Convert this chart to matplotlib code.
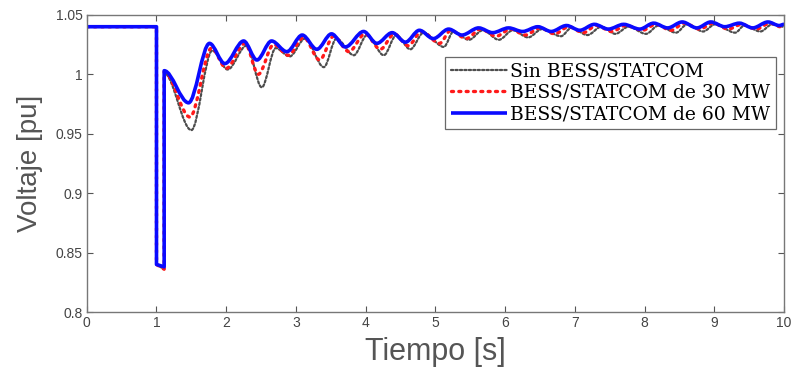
import matplotlib
matplotlib.use("Agg")
import matplotlib.pyplot as plt
from matplotlib.path import Path
from matplotlib.patches import PathPatch
from matplotlib.lines import Line2D

# ---- data -------------------------------------------------------------
# fault segment (pre-fault level, fault, clearing) per case
fault_t = [0.0, 1.0, 1.0, 1.11]
sin_fault_v = [1.04, 1.04, 0.840, 0.836]
b30_fault_v = [1.04, 1.04, 0.840, 0.836]
b60_fault_v = [1.04, 1.04, 0.840, 0.838]

# post-fault oscillation: successive extremes (time, voltage)
b60_t = [1.11, 1.46, 1.76, 1.98, 2.25, 2.44, 2.65, 2.87, 3.09, 3.30, 3.51, 3.71,
         3.97, 4.16, 4.38, 4.57, 4.77, 4.97, 5.19, 5.38, 5.62, 5.82, 6.05, 6.25,
         6.47, 6.66, 6.88, 7.07, 7.28, 7.48, 7.70, 7.93, 8.13, 8.33, 8.54, 8.75,
         8.95, 9.15, 9.36, 9.55, 9.77, 9.93, 10.0]
b60_v = [1.003, 0.976, 1.026, 1.009, 1.028, 1.012, 1.028, 1.019, 1.033, 1.021,
         1.034, 1.023, 1.036, 1.026, 1.035, 1.027, 1.037, 1.030, 1.038, 1.033,
         1.039, 1.035, 1.039, 1.036, 1.040, 1.036, 1.041, 1.037, 1.042, 1.038,
         1.042, 1.038, 1.043, 1.039, 1.044, 1.039, 1.044, 1.040, 1.043, 1.039,
         1.044, 1.041, 1.042]

b30_t = [1.11, 1.48, 1.79, 2.00, 2.27, 2.46, 2.68, 2.89, 3.11, 3.34, 3.54, 3.76,
         3.99, 4.21, 4.41, 4.61, 4.80, 5.06, 5.22, 5.44, 5.65, 5.87, 6.08, 6.29,
         6.50, 6.71, 6.91, 7.12, 7.31, 7.53, 7.73, 7.97, 8.16, 8.38, 8.57, 8.79,
         8.98, 9.20, 9.39, 9.60, 9.80, 9.95, 10.0]
b30_v = [1.002, 0.964, 1.022, 1.005, 1.026, 1.000, 1.025, 1.016, 1.031, 1.012,
         1.032, 1.019, 1.034, 1.021, 1.034, 1.024, 1.036, 1.026, 1.037, 1.030,
         1.038, 1.032, 1.038, 1.033, 1.039, 1.034, 1.040, 1.035, 1.041, 1.036,
         1.041, 1.037, 1.042, 1.037, 1.043, 1.038, 1.043, 1.038, 1.042, 1.038,
         1.043, 1.040, 1.041]

sin_t = [1.11, 1.50, 1.80, 2.02, 2.29, 2.51, 2.71, 2.91, 3.13, 3.40, 3.58, 3.83,
         4.02, 4.26, 4.44, 4.64, 4.83, 5.12, 5.26, 5.48, 5.68, 5.91, 6.11, 6.33,
         6.53, 6.80, 6.95, 7.18, 7.38, 7.58, 7.77, 8.02, 8.20, 8.45, 8.61, 8.84,
         9.01, 9.30, 9.43, 9.66, 9.83, 10.0]
sin_v = [1.001, 0.953, 1.020, 1.004, 1.024, 0.989, 1.022, 1.015, 1.030, 1.006,
         1.030, 1.016, 1.033, 1.016, 1.033, 1.021, 1.035, 1.023, 1.036, 1.029,
         1.037, 1.029, 1.037, 1.031, 1.038, 1.032, 1.039, 1.033, 1.040, 1.034,
         1.040, 1.034, 1.041, 1.035, 1.042, 1.036, 1.042, 1.035, 1.041, 1.036,
         1.042, 1.040]

labels = ["Sin BESS/STATCOM", "BESS/STATCOM de 30 MW", "BESS/STATCOM de 60 MW"]
x_ticks = [0, 1, 2, 3, 4, 5, 6, 7, 8, 9, 10]
y_ticks = [0.8, 0.85, 0.9, 0.95, 1.0, 1.05]
y_ticklabels = ["0.8", "0.85", "0.9", "0.95", "1", "1.05"]


def trace_path(ft, fv, et, ev):
    """Straight fault segment followed by a smooth curve through the extremes
    (horizontal tangent at every extreme)."""
    verts = list(zip(ft, fv))
    codes = [Path.MOVETO] + [Path.LINETO] * (len(ft) - 1)
    verts.append((et[0], ev[0]))
    codes.append(Path.LINETO)
    for i in range(len(et) - 1):
        t0, v0, t1, v1 = et[i], ev[i], et[i + 1], ev[i + 1]
        d = (t1 - t0) / 3.0
        verts += [(t0 + d, v0), (t1 - d, v1), (t1, v1)]
        codes += [Path.CURVE4] * 3
    return Path(verts, codes)


fig = plt.figure(figsize=(7.96, 3.71), dpi=100)
ax = fig.add_axes([0.109, 0.159, 0.876, 0.801])

styles = [
    dict(color="0.3", lw=1.6, ls=(0, (1, 1))),
    dict(color="#ff1a1a", lw=2.4, ls=(0, (0.6, 1.6))),
    dict(color="#0a0aff", lw=2.6, ls="-"),
]
series = [
    (sin_fault_v, sin_t, sin_v),
    (b30_fault_v, b30_t, b30_v),
    (b60_fault_v, b60_t, b60_v),
]
for (fv, et, ev), st in zip(series, styles):
    p = trace_path(fault_t, fv, et, ev)
    ax.add_patch(PathPatch(p, fill=False, edgecolor=st["color"], lw=st["lw"],
                           linestyle=st["ls"], capstyle="round",
                           joinstyle="round"))

ax.set_xlim(0, 10)
ax.set_ylim(0.8, 1.05)
ax.set_xticks(x_ticks)
ax.set_yticks(y_ticks)
ax.set_yticklabels(y_ticklabels)

tick_color = "#555555"
ax.tick_params(direction="in", top=True, right=True, length=4, width=0.8,
               colors=tick_color, labelsize=10, pad=3)
for lab in ax.get_xticklabels() + ax.get_yticklabels():
    lab.set_family("Liberation Sans")
    lab.set_color("#444444")
for s in ax.spines.values():
    s.set_color("#777777")
    s.set_linewidth(1.0)

ax.set_xlabel("Tiempo [s]", family="Liberation Sans", fontsize=22,
              color="#555555", labelpad=5)
ax.set_ylabel("Voltaje [pu]", family="Liberation Sans", fontsize=20,
              color="#555555", labelpad=9)

handles = [Line2D([], [], color=st["color"], lw=st["lw"], linestyle=st["ls"],
                  solid_capstyle="butt", dash_capstyle="round")
           for st in styles]
leg = ax.legend(handles, labels, loc="upper left",
                bbox_to_anchor=(0.514, 0.859), borderaxespad=0,
                prop=dict(family="DejaVu Serif", size=13.5),
                frameon=True, fancybox=False, handlelength=3.0,
                handletextpad=0.15, labelspacing=0.18, borderpad=0.3)
leg.get_frame().set_edgecolor("#444444")
leg.get_frame().set_linewidth(0.9)

fig.savefig("out.png", dpi=100)
